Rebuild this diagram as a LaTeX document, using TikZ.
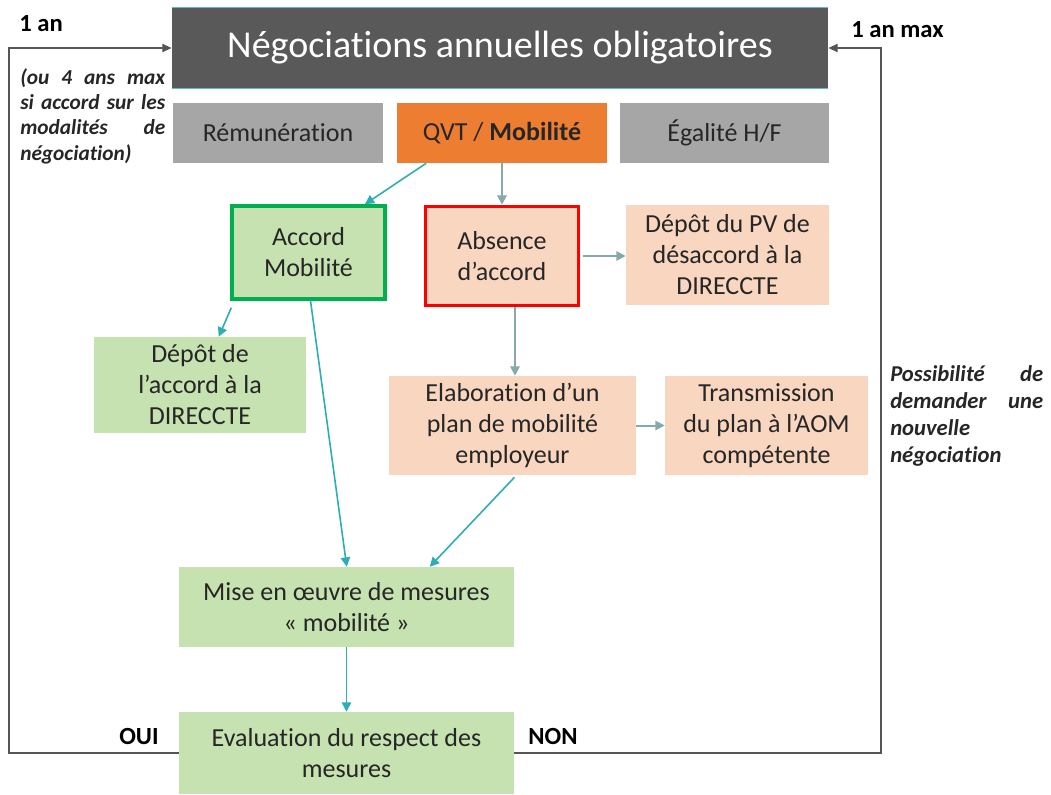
\documentclass[tikz,border=0pt]{standalone}
\usepackage{fontspec}
\setmainfont[Ligatures=NoCommon]{Carlito}
\usetikzlibrary{arrows.meta,calc}
\definecolor{darkbox}{HTML}{595959}
\definecolor{greybox}{HTML}{A6A6A6}
\definecolor{orangebox}{HTML}{ED7D31}
\definecolor{peach}{HTML}{F9D6BF}
\definecolor{lgreen}{HTML}{C6E2B0}
\definecolor{dgreen}{HTML}{00B050}
\definecolor{teal}{HTML}{2EADB5}
\definecolor{greyteal}{HTML}{87A9AC}
\definecolor{txt}{HTML}{262626}
\definecolor{loopc}{HTML}{555555}
\definecolor{titleedge}{HTML}{5DBBC3}
\tikzset{
  box/.style={inner sep=0pt, align=center, text=txt, font=\fontsize{19.5pt}{23.25pt}\selectfont},
  arrT/.style={draw=teal, line width=1.2pt, -{Triangle[length=7pt,width=7pt]}},
  arrG/.style={draw=greyteal, line width=1.5pt, -{Triangle[length=7pt,width=7pt]}},
  loopline/.style={draw=loopc, line width=1.5pt, -{Triangle[length=7pt,width=6pt]}},
  lbl/.style={inner sep=0pt, text=black, font=\fontsize{18.5pt}{21pt}\selectfont\bfseries},
  note/.style={inner sep=0pt, text=txt, font=\fontsize{16pt}{19pt}\selectfont\bfseries\itshape, align=left}
}
\begin{document}
\begin{tikzpicture}[x={(0.75pt,0)},y={(0,-0.75pt)}]
\useasboundingbox (0,0) rectangle (1051,795);

% title
\node[box, fill=darkbox, minimum width=492pt, minimum height=60pt, text=white,
      font=\fontsize{28.5pt}{32pt}\selectfont] (title) at (500,48) {Négociations annuelles obligatoires};
\draw[titleedge, line width=0.8pt] (title.north west) -- (title.north east);
\draw[titleedge, line width=0.8pt] (title.south west) -- (title.south east);

% themes
\node[box, fill=greybox, minimum width=157.5pt, minimum height=45pt] (rem) at (278,133) {Rémunération};
\node[box, fill=orangebox, minimum width=157.5pt, minimum height=45pt] (qvt) at (502,133) {QVT / \textbf{Mobilité}};
\node[box, fill=greybox, minimum width=156.75pt, minimum height=45pt] (ega) at (724.5,133) {Égalité H/F};

% second level
\node[box, fill=lgreen, draw=dgreen, line width=2.6pt, minimum width=114.75pt, minimum height=69.75pt] (accord) at (308.5,252.5) {Accord\\Mobilité};
\node[box, fill=peach, draw=red, line width=2.6pt, minimum width=114.75pt, minimum height=74.25pt] (absence) at (502,256) {Absence\\d’accord};
\node[box, fill=peach, minimum width=152.25pt, minimum height=75pt] (pv) at (727.5,255) {Dépôt du PV de\\désaccord à la\\DIRECCTE};
\node[box, fill=lgreen, minimum width=159pt, minimum height=72pt] (depacc) at (200,385) {Dépôt de\\l’accord à la\\DIRECCTE};
\node[box, fill=peach, minimum width=185.25pt, minimum height=74.25pt] (elab) at (512.5,425.5) {Elaboration d’un\\plan de mobilité\\employeur};
\node[box, fill=peach, minimum width=152.25pt, minimum height=74.25pt] (trans) at (766.5,425.5) {Transmission\\du plan à l’AOM\\compétente};
\node[box, fill=lgreen, minimum width=251.25pt, minimum height=60pt] (mise) at (346.5,607) {Mise en œuvre de mesures\\«~mobilité~»};
\node[box, fill=lgreen, minimum width=251.25pt, minimum height=61.5pt] (eval) at (346.5,753) {Evaluation du respect des\\mesures};

% connectors
\draw[arrT] ($(qvt.south west)!0.14!(qvt.south east)$) -- ($(accord.north west)!0.86!(accord.north east)$);
\draw[arrG] (qvt.south) -- (absence.north);
\draw[arrG, shorten <=2pt] (absence.east) -- (pv.west |- absence.east);
\draw[arrG] ($(absence.south)+(13,0)$) coordinate (s4) -- (s4 |- elab.north);
\draw[arrT] ($(accord.south west)+(1,7)$) -- ($(depacc.north west)+(125,0)$);
\draw[arrT] ($(accord.south)+(2,0)$) -- ($(mise.north west)+(168,0)$);
\draw[arrT] ($(elab.south)+(2,2)$) -- ($(mise.north west)+(251,0)$);
\draw[arrG] (elab.east) -- (trans.west);
\draw[arrT] (mise.south) -- (eval.north);

% loops
\coordinate (cL) at (9,48);
\coordinate (cR) at (881,48);
\draw[loopline] (eval.west) -| (cL) -- (title.west);
\draw[loopline] (eval.east) -| (cR) -- (title.east);

% labels
\node[lbl, anchor=west] (l1) at (19,24) {1 an};
\node[lbl, anchor=west] (l2) at (851,30) {1 an max};
\node[lbl] (oui) at (139,736) {OUI};
\node[lbl] (non) at (553,736) {NON};

\node[note, anchor=north west, text width=108.75pt] (nl) at (20,68)
 {\makebox[108.75pt][s]{(ou\hfill 4\hfill ans\hfill max}\\\makebox[108.75pt][s]{si\hfill accord\hfill sur\hfill les}\\\makebox[108.75pt][s]{modalités\hfill de}\\négociation)};
\node[note, anchor=north west, text width=114.75pt, font=\fontsize{17pt}{20.25pt}\selectfont\bfseries\itshape] (nr) at (890,365)
 {\makebox[114.75pt][s]{Possibilité\hfill de}\\\makebox[114.75pt][s]{demander\hfill une}\\nouvelle\\négociation};
\end{tikzpicture}
\end{document}
